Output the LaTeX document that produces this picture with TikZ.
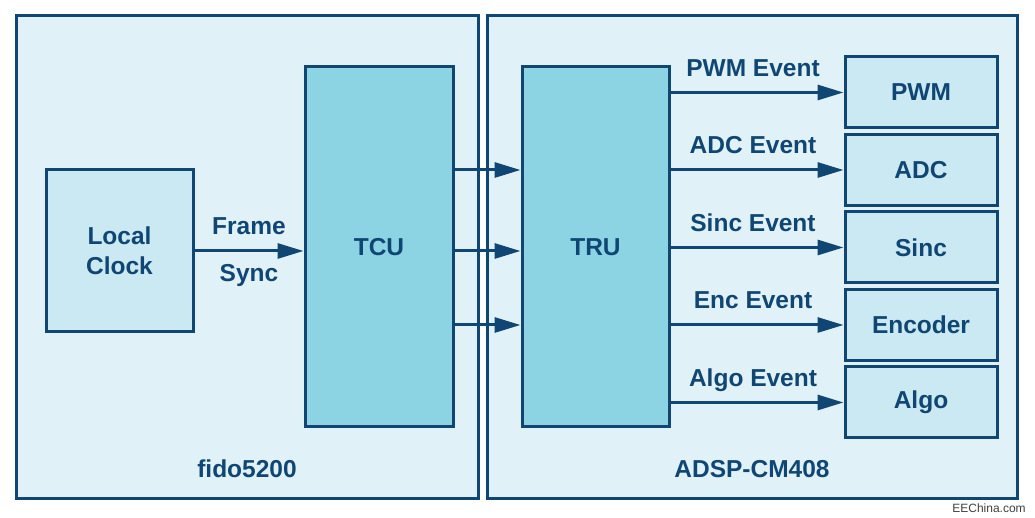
\documentclass[tikz,border=0pt]{standalone}
\usepackage{xcolor}
\usepackage{fontspec}
\setmainfont{Liberation Sans}
\usepackage{tikz}
\usetikzlibrary{arrows.meta,positioning,calc}
\definecolor{adinavy}{RGB}{16,70,115}
\definecolor{paneblue}{RGB}{224,242,247}
\definecolor{boxblue}{RGB}{202,233,242}
\definecolor{unitblue}{RGB}{140,212,228}

\begin{document}
\begin{tikzpicture}[x=1pt, y=1pt, >={Triangle[length=26pt,width=15pt]}, line width=3pt]
  \tikzstyle{panel} = [rectangle, draw=adinavy, fill=paneblue, minimum width=462pt, minimum height=483pt]
  \tikzstyle{unit} = [rectangle, draw=adinavy, fill=unitblue, minimum width=148pt, minimum height=360pt, text=adinavy, font=\fontsize{24.5}{28}\selectfont\bfseries]
  \tikzstyle{blk} = [rectangle, draw=adinavy, fill=boxblue, minimum width=152pt, minimum height=71pt, text=adinavy, font=\fontsize{24.5}{30}\selectfont\bfseries, align=center]
  \tikzstyle{evt} = [inner sep=0pt, text=adinavy, font=\fontsize{24.5}{28}\selectfont\bfseries, anchor=base]
  \tikzstyle{sig} = [->, draw=adinavy]

  \useasboundingbox (0,0) rectangle (1035,518);
  \fill[white] (0,0) rectangle (1035,518);

  % the two chips
  \node[panel] (fido) at (247,260.5) {};
  \node[panel, minimum width=530pt] (adsp) [right=6pt of fido] {};
  \node[evt] (fidolbl) at ([yshift=23pt]fido.south) {fido5200};
  \node[evt] (adsplbl) at ([yshift=23pt]adsp.south) {ADSP-CM408};

  % timing blocks
  \node[blk, minimum width=147pt, minimum height=162pt] (clk) at (119.5,267) {Local\\Clock};
  \node[unit] (tcu) at (379,271) {TCU};
  \node[unit, minimum width=147pt] (tru) [right=66pt of tcu] {TRU};

  % event targets
  \node[blk] (pwm) at (921,425.5) {PWM};
  \node[blk] (adc) [below=3.5pt of pwm] {ADC};
  \node[blk] (sinc) [below=3.5pt of adc] {Sinc};
  \node[blk] (enc) [below=3.5pt of sinc] {Encoder};
  \node[blk] (algo) [below=3.5pt of enc] {Algo};

  % frame sync
  \draw[sig] (clk.east) -- node[evt, yshift=16pt] {Frame} node[evt, yshift=-31pt] {Sync} (tcu.west |- clk.east);

  % tcu to tru
  \draw[sig] (tcu.east |- adc.west) -- (tru.west |- adc.west);
  \draw[sig] (tcu.east |- clk.east) -- (tru.west |- clk.east);
  \draw[sig] (tcu.east |- enc.west) -- (tru.west |- enc.west);

  % events out of tru
  \draw[sig] (tru.east |- pwm.west) -- node[evt, xshift=-4pt, yshift=16pt] {PWM Event} (pwm.west);
  \draw[sig] (tru.east |- adc.west) -- node[evt, xshift=-4pt, yshift=16pt] {ADC Event} (adc.west);
  \draw[sig] (tru.east |- sinc.west) -- node[evt, xshift=-4pt, yshift=16pt] {Sinc Event} (sinc.west);
  \draw[sig] (tru.east |- enc.west) -- node[evt, xshift=-4pt, yshift=16pt] {Enc Event} (enc.west);
  \draw[sig] (tru.east |- algo.west) -- node[evt, xshift=-4pt, yshift=16pt] {Algo Event} (algo.west);

  \node[text=black!75, font=\fontsize{12}{14}\selectfont] (wm) at (989,10) {EEChina.com};
\end{tikzpicture}
\end{document}
